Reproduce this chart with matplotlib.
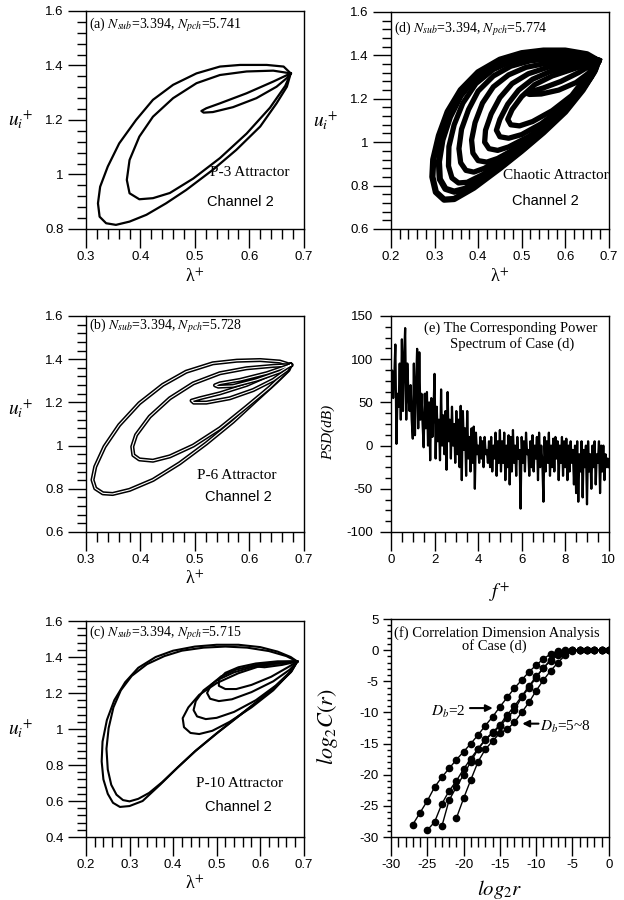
import numpy as np
import matplotlib
matplotlib.use("Agg")
import matplotlib.pyplot as plt
from matplotlib.ticker import MultipleLocator, FormatStrFormatter

plt.rcParams['font.family'] = ['Liberation Sans', 'DejaVu Sans']
plt.rcParams['mathtext.fontset'] = 'stix'
SERIF = ['Liberation Serif', 'DejaVu Serif']

# ---------------- data (lambda+, u_i+) ----------------
# (a) P-3 attractor
a_outer = [(0.676, 1.371), (0.663, 1.396), (0.632, 1.402), (0.583, 1.402), (0.546, 1.396),
           (0.503, 1.371), (0.460, 1.329), (0.423, 1.274), (0.392, 1.200), (0.361, 1.114),
           (0.340, 1.029), (0.326, 0.955), (0.322, 0.894), (0.325, 0.845), (0.337, 0.821),
           (0.355, 0.815), (0.380, 0.827), (0.411, 0.852), (0.447, 0.894), (0.484, 0.943),
           (0.533, 1.017), (0.576, 1.090), (0.620, 1.176), (0.650, 1.261), (0.669, 1.322),
           (0.676, 1.371)]
a_mid = [(0.676, 1.371), (0.644, 1.381), (0.595, 1.378), (0.546, 1.365), (0.503, 1.335),
         (0.460, 1.280), (0.423, 1.212), (0.398, 1.139), (0.380, 1.053), (0.375, 0.980),
         (0.380, 0.931), (0.398, 0.909), (0.423, 0.913), (0.454, 0.932), (0.497, 0.985),
         (0.546, 1.060), (0.595, 1.150), (0.638, 1.245), (0.666, 1.325), (0.676, 1.371)]
a_small = [(0.676, 1.371), (0.644, 1.341), (0.595, 1.298), (0.546, 1.261), (0.521, 1.243),
           (0.512, 1.233), (0.516, 1.227), (0.533, 1.229), (0.570, 1.247), (0.613, 1.280),
           (0.650, 1.322), (0.672, 1.359), (0.676, 1.371)]

# (b) P-6 attractor (each loop is a close double line)
b_outer = [(0.676, 1.373), (0.656, 1.389), (0.620, 1.396), (0.577, 1.393), (0.533, 1.381),
           (0.484, 1.342), (0.441, 1.281), (0.398, 1.196), (0.361, 1.095), (0.334, 0.995),
           (0.317, 0.902), (0.312, 0.841), (0.317, 0.802), (0.331, 0.779), (0.349, 0.776),
           (0.380, 0.795), (0.423, 0.841), (0.472, 0.918), (0.521, 1.010), (0.570, 1.111),
           (0.613, 1.211), (0.650, 1.296), (0.672, 1.350), (0.676, 1.373)]
b_mid = [(0.676, 1.373), (0.644, 1.369), (0.595, 1.358), (0.546, 1.335), (0.497, 1.288),
         (0.454, 1.219), (0.417, 1.134), (0.392, 1.049), (0.385, 0.995), (0.387, 0.956),
         (0.398, 0.936), (0.423, 0.930), (0.454, 0.950), (0.497, 1.000), (0.546, 1.080),
         (0.595, 1.180), (0.638, 1.270), (0.669, 1.345), (0.676, 1.373)]
b_small1 = [(0.676, 1.373), (0.644, 1.335), (0.595, 1.281), (0.546, 1.242), (0.509, 1.219),
            (0.494, 1.208), (0.498, 1.199), (0.521, 1.199), (0.564, 1.219), (0.607, 1.257),
            (0.644, 1.304), (0.669, 1.350), (0.676, 1.373)]
b_small2 = [(0.676, 1.373), (0.632, 1.335), (0.583, 1.304), (0.546, 1.288), (0.537, 1.279),
            (0.543, 1.273), (0.570, 1.276), (0.613, 1.304), (0.656, 1.342), (0.676, 1.373)]

# (c) P-10 attractor
c_outer1 = [(0.685, 1.375), (0.670, 1.400), (0.640, 1.430), (0.600, 1.455), (0.550, 1.468),
            (0.500, 1.468), (0.450, 1.458), (0.400, 1.435), (0.360, 1.400), (0.320, 1.340),
            (0.290, 1.260), (0.265, 1.160), (0.248, 1.050), (0.238, 0.930), (0.236, 0.820),
            (0.240, 0.720), (0.250, 0.640), (0.262, 0.590), (0.278, 0.567), (0.300, 0.572),
            (0.330, 0.600), (0.370, 0.690), (0.410, 0.785), (0.450, 0.875), (0.500, 0.975),
            (0.550, 1.070), (0.600, 1.165), (0.640, 1.245), (0.670, 1.315), (0.685, 1.375)]
c_outer2 = [(0.685, 1.375), (0.660, 1.405), (0.620, 1.433), (0.570, 1.452), (0.520, 1.458),
            (0.470, 1.452), (0.420, 1.435), (0.380, 1.405), (0.340, 1.360), (0.305, 1.295),
            (0.280, 1.215), (0.263, 1.120), (0.252, 1.005), (0.247, 0.890), (0.250, 0.775),
            (0.258, 0.690), (0.270, 0.635), (0.285, 0.605), (0.300, 0.598), (0.320, 0.612),
            (0.345, 0.645), (0.375, 0.705), (0.412, 0.790), (0.452, 0.880), (0.502, 0.980),
            (0.552, 1.075), (0.602, 1.170), (0.642, 1.250), (0.672, 1.320), (0.685, 1.375)]
c_in1 = [(0.685, 1.375), (0.650, 1.372), (0.600, 1.350), (0.550, 1.310), (0.500, 1.255),
         (0.460, 1.190), (0.435, 1.120), (0.422, 1.060), (0.425, 1.010), (0.440, 0.978),
         (0.460, 0.972), (0.490, 0.990), (0.530, 1.040), (0.580, 1.120), (0.630, 1.215),
         (0.665, 1.305), (0.685, 1.375)]
c_in2 = [(0.685, 1.375), (0.640, 1.370), (0.590, 1.350), (0.540, 1.315), (0.500, 1.270),
         (0.470, 1.215), (0.452, 1.155), (0.447, 1.105), (0.455, 1.070), (0.475, 1.055),
         (0.500, 1.062), (0.540, 1.095), (0.590, 1.160), (0.635, 1.240), (0.670, 1.320),
         (0.685, 1.375)]
c_in3 = [(0.685, 1.375), (0.640, 1.372), (0.590, 1.356), (0.545, 1.330), (0.510, 1.292),
         (0.487, 1.245), (0.478, 1.200), (0.485, 1.168), (0.505, 1.155), (0.535, 1.165),
         (0.580, 1.205), (0.630, 1.265), (0.668, 1.330), (0.685, 1.375)]
c_in4 = [(0.685, 1.375), (0.640, 1.376), (0.590, 1.364), (0.550, 1.343), (0.520, 1.312),
         (0.505, 1.275), (0.505, 1.240), (0.520, 1.222), (0.545, 1.222), (0.580, 1.245),
         (0.625, 1.290), (0.665, 1.345), (0.685, 1.375)]
c_in5 = [(0.685, 1.375), (0.650, 1.368), (0.610, 1.355), (0.595, 1.346), (0.610, 1.343),
         (0.650, 1.356), (0.685, 1.375)]

# (d) chaotic attractor, bands from outside in
d_loops = [
    [(0.676, 1.375), (0.650, 1.405), (0.600, 1.422), (0.550, 1.422), (0.500, 1.410), (0.450, 1.380),
     (0.400, 1.322), (0.360, 1.240), (0.330, 1.140), (0.310, 1.030), (0.297, 0.920), (0.295, 0.840),
     (0.303, 0.770), (0.322, 0.735), (0.345, 0.738), (0.390, 0.790), (0.450, 0.880), (0.500, 0.960),
     (0.550, 1.045), (0.600, 1.140), (0.640, 1.240), (0.665, 1.320), (0.676, 1.375)],
    [(0.676, 1.375), (0.640, 1.400), (0.590, 1.412), (0.540, 1.410), (0.490, 1.395), (0.440, 1.360),
     (0.395, 1.300), (0.360, 1.215), (0.335, 1.115), (0.318, 1.010), (0.310, 0.910), (0.312, 0.830),
     (0.325, 0.785), (0.345, 0.772), (0.370, 0.785), (0.410, 0.830), (0.460, 0.900), (0.510, 0.980),
     (0.560, 1.070), (0.610, 1.170), (0.645, 1.260), (0.668, 1.330), (0.676, 1.375)],
    [(0.676, 1.375), (0.630, 1.392), (0.580, 1.400), (0.530, 1.395), (0.480, 1.375), (0.435, 1.335),
     (0.395, 1.270), (0.365, 1.180), (0.345, 1.080), (0.333, 0.980), (0.332, 0.890), (0.340, 0.835),
     (0.355, 0.812), (0.375, 0.815), (0.410, 0.850), (0.460, 0.915), (0.515, 1.000), (0.565, 1.085),
     (0.615, 1.185), (0.650, 1.275), (0.670, 1.340), (0.676, 1.375)],
    [(0.676, 1.375), (0.620, 1.385), (0.570, 1.385), (0.520, 1.375), (0.475, 1.350), (0.435, 1.305),
     (0.400, 1.235), (0.378, 1.150), (0.362, 1.060), (0.356, 0.970), (0.360, 0.905), (0.372, 0.870),
     (0.390, 0.862), (0.415, 0.880), (0.460, 0.935), (0.515, 1.015), (0.565, 1.100), (0.615, 1.195),
     (0.650, 1.280), (0.676, 1.375)],
    [(0.676, 1.375), (0.610, 1.372), (0.560, 1.365), (0.510, 1.345), (0.470, 1.310), (0.435, 1.255),
     (0.410, 1.180), (0.393, 1.090), (0.385, 1.010), (0.388, 0.950), (0.400, 0.915), (0.420, 0.908),
     (0.445, 0.925), (0.490, 0.975), (0.540, 1.045), (0.590, 1.130), (0.630, 1.220), (0.660, 1.300),
     (0.676, 1.375)],
    [(0.676, 1.375), (0.610, 1.360), (0.560, 1.345), (0.515, 1.315), (0.478, 1.270), (0.450, 1.205),
     (0.430, 1.130), (0.417, 1.055), (0.415, 1.000), (0.425, 0.970), (0.445, 0.962), (0.470, 0.978),
     (0.515, 1.025), (0.565, 1.095), (0.610, 1.180), (0.645, 1.260), (0.676, 1.375)],
    [(0.676, 1.375), (0.610, 1.345), (0.565, 1.325), (0.525, 1.290), (0.493, 1.240), (0.468, 1.175),
     (0.450, 1.105), (0.442, 1.055), (0.450, 1.025), (0.470, 1.018), (0.500, 1.035), (0.545, 1.085),
     (0.590, 1.155), (0.630, 1.235), (0.676, 1.375)],
    [(0.676, 1.375), (0.615, 1.335), (0.570, 1.305), (0.530, 1.265), (0.500, 1.210), (0.478, 1.150),
     (0.468, 1.105), (0.475, 1.080), (0.495, 1.075), (0.525, 1.095), (0.570, 1.145), (0.615, 1.215),
     (0.676, 1.375)],
    [(0.676, 1.375), (0.630, 1.320), (0.590, 1.280), (0.550, 1.250), (0.520, 1.232), (0.510, 1.226),
     (0.518, 1.220), (0.545, 1.222), (0.585, 1.240), (0.625, 1.275), (0.655, 1.320), (0.676, 1.375)],
]

# (e) power spectrum, PSD (dB) sampled every 0.05 in f+
psd_step = 0.05
psd_db = [70, 87, 55, 80, 117, 2, 60, 45, 95, 30,
          123, 40, 100, 136, 30, 95, 60, 40, 70, 30,
          8, 95, 12, 70, 112, 20, 108, 30, 60, 25,
          -2, 60, 20, 62, 0, 50, -17, 55, 10, 40,
          83, -15, 45, 5, 30, -17, 65, 0, 35, -10,
          40, -28, 62, 5, 30, -15, 45, 0, 25, -20,
          40, -10, 30, -25, 46, -40, 40, -5, 20, -35,
          40, -15, 10, -30, 20, -20, 22, -50, 15, -10,
          0, -20, 10, -15, 5, -25, 10, -10, -5, -20,
          5, -25, 10, -30, 0, -15, 15, -35, 5, -20,
          18, -30, 5, -20, 15, -40, 0, -25, 12, -45,
          10, -30, 18, -20, 0, -35, 10, -15, -5, -73,
          10, -20, 5, -30, 15, -10, -5, -35, 5, -25,
          12, -30, 0, -15, 10, -40, 15, -25, 0, -20,
          -65, 10, -30, 5, -20, 15, -35, 0, -25, 8,
          -30, 10, -15, 5, -40, 0, -20, 10, -35, 5,
          -25, 8, -40, 0, -30, 5, -20, -5, -45, 0,
          -55, 5, -65, -10, -30, 5, -60, -5, -25, 0,
          -68, 5, -30, -10, -50, 0, -25, 5, -45, -10,
          -20, 5, -55, 0, -30, 0, -40, -10, -25, -15,
          -25]

# (f) correlation integrals, log2 C(r) vs log2 r
f_x1 = list(range(-27, 1))
f_y1 = [-28.0, -26.1, -24.2, -22.0, -20.4, -19.0, -17.6, -16.3, -15.0, -13.6, -12.1, -10.7,
        -9.1, -7.6, -6.1, -4.8, -3.5, -2.4, -1.4, -0.6, -0.1, 0, 0, 0, 0, 0, 0, 0]
f_x2 = list(range(-25, 1))
f_y2 = [-28.9, -27.6, -24.7, -22.6, -21.0, -19.1, -17.4, -15.8, -14.3, -13.2, -12.0, -10.4,
        -9.0, -7.4, -5.8, -4.2, -2.9, -1.5, -0.6, -0.1, 0, 0, 0, 0, 0, 0]
f_x3 = list(range(-23, 1))
f_y3 = [-28.3, -24.1, -22.0, -20.0, -17.9, -15.9, -14.4, -13.3, -12.2, -10.9, -9.6, -7.6,
        -6.0, -4.4, -2.8, -1.7, -0.8, -0.3, 0, 0, 0, 0, 0, 0]
f_x4 = list(range(-21, 1))
f_y4 = [-27.0, -23.8, -20.8, -17.9, -15.9, -14.6, -13.3, -12.7, -11.6, -10.0, -8.4, -6.5,
        -4.8, -3.3, -2.0, -0.8, -0.2, 0, 0, 0, 0, 0]


def style(ax, xlim, ylim, xmaj, xmin, ymaj, ymin, ylen=13, ypad=3):
    ax.set_xlim(*xlim)
    ax.set_ylim(*ylim)
    ax.xaxis.set_major_locator(MultipleLocator(xmaj))
    ax.xaxis.set_minor_locator(MultipleLocator(xmin))
    ax.yaxis.set_major_locator(MultipleLocator(ymaj))
    ax.yaxis.set_minor_locator(MultipleLocator(ymin))
    ax.xaxis.set_major_formatter(FormatStrFormatter('%g'))
    ax.yaxis.set_major_formatter(FormatStrFormatter('%g'))
    ax.tick_params(which='both', direction='out', top=False, right=False,
                   labelsize=9.5, width=1)
    ax.tick_params(axis='x', which='major', length=14, pad=2)
    ax.tick_params(axis='x', which='minor', length=7)
    ax.tick_params(axis='y', which='major', length=ylen, pad=ypad)
    ax.tick_params(axis='y', which='minor', length=ylen * 0.5)
    for s in ax.spines.values():
        s.set_linewidth(1)


def attractor_labels(ax, tag, npch, kind, kind_xy, chan_xy, ylab_y=0.5, tag_y=0.936):
    ax.text(0.012, tag_y, r'(%s) $N_{sub}$=3.394, $N_{pch}$=%s' % (tag, npch),
            transform=ax.transAxes, family=SERIF, fontsize=10, va='center')
    ax.text(kind_xy[0], kind_xy[1], kind, transform=ax.transAxes, family=SERIF,
            fontsize=11, ha='center', va='center')
    ax.text(chan_xy[0], chan_xy[1], 'Channel 2', transform=ax.transAxes, fontsize=10.5,
            ha='center', va='center')
    ax.set_xlabel('λ$^{+}$', family=SERIF, fontsize=13, va='center')
    ax.xaxis.set_label_coords(0.5, -0.22)
    ax.set_ylabel(r'$u_{i}{}^{+}$', fontsize=14, rotation=0, ha='center', va='center')
    ax.yaxis.set_label_coords(-0.30, ylab_y)


def loop(ax, pts, lw=1.6):
    xy = np.array(pts)
    ax.plot(xy[:, 0], xy[:, 1], color='black', lw=lw, solid_joinstyle='round')


def double_loop(ax, pts):
    xy = np.array(pts)
    ax.plot(xy[:, 0], xy[:, 1], color='black', lw=3.0, solid_joinstyle='round')
    ax.plot(xy[:, 0], xy[:, 1], color='white', lw=0.8, solid_joinstyle='round')


fig = plt.figure(figsize=(6.24, 9.0), dpi=100)
L1, L2, W = 0.1378, 0.6266, 0.349

# (a)
ax = fig.add_axes([L1, 0.7456, W, 0.2422])
for pts in (a_outer, a_mid, a_small):
    loop(ax, pts)
style(ax, (0.3, 0.7), (0.8, 1.6), 0.1, 0.02, 0.2, 0.04)
attractor_labels(ax, 'a', '5.741', 'P-3 Attractor', (0.753, 0.257), (0.71, 0.124),
                 tag_y=0.936)

# (b)
ax = fig.add_axes([L1, 0.4089, W, 0.24])
for pts in (b_outer, b_mid, b_small1, b_small2):
    double_loop(ax, pts)
style(ax, (0.3, 0.7), (0.6, 1.6), 0.1, 0.02, 0.2, 0.04)
attractor_labels(ax, 'b', '5.728', 'P-6 Attractor', (0.69, 0.262), (0.70, 0.16),
                 ylab_y=0.57, tag_y=0.955)

# (c)
ax = fig.add_axes([L1, 0.07, W, 0.24])
for pts in (c_outer1, c_outer2, c_in1, c_in2, c_in3, c_in4, c_in5):
    loop(ax, pts, lw=1.5)
style(ax, (0.2, 0.7), (0.4, 1.6), 0.1, 0.02, 0.2, 0.04)
attractor_labels(ax, 'c', '5.715', 'P-10 Attractor', (0.703, 0.249), (0.70, 0.14),
                 tag_y=0.948)

# (d)
ax = fig.add_axes([L2, 0.7456, W, 0.2411])
for i, pts in enumerate(d_loops):
    loop(ax, pts, lw=4.5 if i < 2 else 3.8)
style(ax, (0.2, 0.7), (0.6, 1.6), 0.1, 0.02, 0.2, 0.04)
attractor_labels(ax, 'd', '5.774', 'Chaotic Attractor', (0.755, 0.245), (0.711, 0.13),
                 tag_y=0.925)

# (e)
ax = fig.add_axes([L2, 0.4089, W, 0.24])
f_plus = np.arange(len(psd_db)) * psd_step
ax.plot(f_plus, psd_db, color='black', lw=1.6)
style(ax, (0, 10), (-100, 150), 2, 0.5, 50, 12.5, ylen=8, ypad=5)
ax.text(0.55, 0.943, '(e) The Corresponding Power', transform=ax.transAxes,
        family=SERIF, fontsize=10.5, ha='center', va='center')
ax.text(0.555, 0.869, 'Spectrum of Case (d)', transform=ax.transAxes,
        family=SERIF, fontsize=10.5, ha='center', va='center')
ax.set_ylabel('PSD(dB)', family=SERIF, style='italic', fontsize=11, va='center')
ax.yaxis.set_label_coords(-0.29, 0.46)
ax.set_xlabel(r'$f^{+}$', fontsize=14, va='center')
ax.xaxis.set_label_coords(0.5, -0.278)

# (f)
ax = fig.add_axes([L2, 0.07, W, 0.2422])
for xs, ys in ((f_x1, f_y1), (f_x2, f_y2), (f_x3, f_y3), (f_x4, f_y4)):
    ax.plot(xs, ys, color='black', lw=1, marker='o', ms=4.5)
style(ax, (-30, 0), (-30, 5), 5, 1, 5, 1, ylen=6)
ax.text(0.487, 0.935, '(f) Correlation Dimension Analysis', transform=ax.transAxes,
        family=SERIF, fontsize=10.5, ha='center', va='center')
ax.text(0.475, 0.875, 'of Case (d)', transform=ax.transAxes,
        family=SERIF, fontsize=10.5, ha='center', va='center')
ax.text(-22.1, -9.9, r'$D_b$=2', family=SERIF, fontsize=11, ha='center', va='center')
ax.annotate('', xy=(-15.6, -9.3), xytext=(-19.5, -9.3),
            arrowprops=dict(arrowstyle='-|>', color='black', lw=1.5, mutation_scale=10))
ax.text(-6.0, -12.4, r'$D_b$=5~8', family=SERIF, fontsize=11, ha='center', va='center')
ax.annotate('', xy=(-12.3, -11.8), xytext=(-9.3, -11.8),
            arrowprops=dict(arrowstyle='-|>', color='black', lw=1.5, mutation_scale=10))
ax.set_ylabel(r'$log_{2}C(r)$', fontsize=16, va='center')
ax.yaxis.set_label_coords(-0.29, 0.506)
ax.set_xlabel(r'$log_{2}r$', fontsize=15, va='center')
ax.xaxis.set_label_coords(0.5, -0.243)

fig.savefig('out.png', dpi=100)
